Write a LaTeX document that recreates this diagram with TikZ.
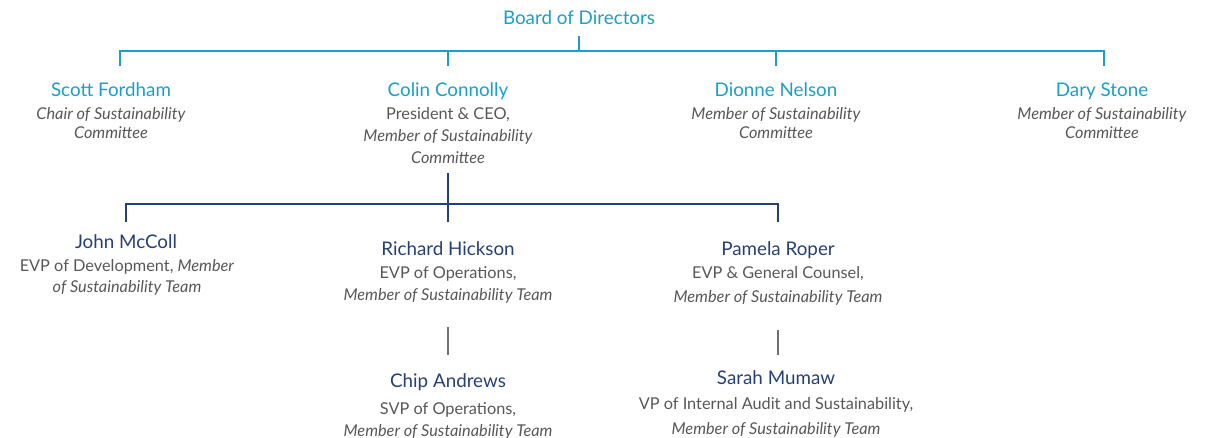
\documentclass[tikz,border=0pt]{standalone}
\usepackage{fontspec}
\setmainfont{Lato}
\usetikzlibrary{positioning}

\definecolor{boardblue}{HTML}{1A9FC6}
\definecolor{teamblue}{HTML}{263F75}
\definecolor{rolegray}{HTML}{575757}
\definecolor{linkgray}{HTML}{707070}

\begin{document}
\begin{tikzpicture}[
    x=1pt, y=-1pt,
    board name/.style={text=boardblue,inner sep=0pt,text height=14pt,text depth=4pt,
        font=\fontsize{18.8}{22}\selectfont},
    team name/.style={board name,text=teamblue},
    role/.style={text=rolegray,align=center,inner sep=0pt,font=\fontsize{16.3}{#1}\selectfont},
    role/.default=22pt,
    board link/.style={boardblue,line width=2.2pt},
    team link/.style={teamblue,line width=2.2pt},
    staff link/.style={linkgray,line width=2.2pt}
    ]
    \useasboundingbox (0,0) rectangle (1212,438);
    % board
    \node[board name] (board) at (579,20) {Board of Directors};
    % committee
    \node[board name] (fordham) at (111,92) {Scott Fordham};
    \node[role=19pt] (fordham-role) at (111,123.5) {\textit{Chair of Sustainability}\\\textit{Committee}};
    \node[board name] (connolly) at (448,92) {Colin Connolly};
    \node[role] (connolly-role) at (448,135.5) {President \& CEO,\\\textit{Member of Sustainability}\\\textit{Committee}};
    \node[board name] (nelson) at (776,92) {Dionne Nelson};
    \node[role=19pt] (nelson-role) at (776,123.5) {\textit{Member of Sustainability}\\\textit{Committee}};
    \node[board name] (stone) at (1102,92) {Dary Stone};
    \node[role=19pt] (stone-role) at (1102,123.5) {\textit{Member of Sustainability}\\\textit{Committee}};
    % team
    \node[team name] (mccoll) at (126,244) {John McColl};
    \node[role=21pt] (mccoll-role) at (127,277.5) {EVP of Development, \textit{Member}\\\textit{of Sustainability Team}};
    \node[team name] (hickson) at (448,250) {Richard Hickson};
    \node[role] (hickson-role) at (448,284.5) {EVP of Operations,\\\textit{Member of Sustainability Team}};
    \node[team name] (roper) at (778,250) {Pamela Roper};
    \node[role=24pt] (roper-role) at (778,286) {EVP \& General Counsel,\\\textit{Member of Sustainability Team}};
    % staff
    \node[team name] (andrews) at (448,382) {Chip Andrews};
    \node[role] (andrews-role) at (448,420.5) {SVP of Operations,\\\textit{Member of Sustainability Team}};
    \node[team name] (mumaw) at (776,379) {Sarah Mumaw};
    \node[role=25pt] (mumaw-role) at (776,417.5) {VP of Internal Audit and Sustainability,\\\textit{Member of Sustainability Team}};
    % board links
    \coordinate (board bus) at (579,51);
    \draw[board link] ([yshift=-7pt]board.south) -- (board bus);
    \draw[board link] ([xshift=9pt,yshift=17pt]fordham.north) |- (board bus) -| ([xshift=2pt,yshift=17pt]stone.north);
    \foreach \p in {connolly,nelson}
        \draw[board link] ([yshift=17pt]\p.north) -- (\p.north |- board bus);
    % team links
    \coordinate (team bus) at (448,204);
    \draw[team link] ([yshift=-9pt]connolly-role.south) -- ([yshift=19pt]hickson.north);
    \draw[team link] ([yshift=13pt]mccoll.north) |- (team bus) -| ([yshift=19pt]roper.north);
    % staff links
    \draw[staff link] ([yshift=-24pt]hickson-role.south) -- ([yshift=18pt]andrews.north);
    \draw[staff link] ([yshift=-24pt]roper-role.south) -- ([yshift=15pt]mumaw.north -| roper-role.south);
\end{tikzpicture}
\end{document}
